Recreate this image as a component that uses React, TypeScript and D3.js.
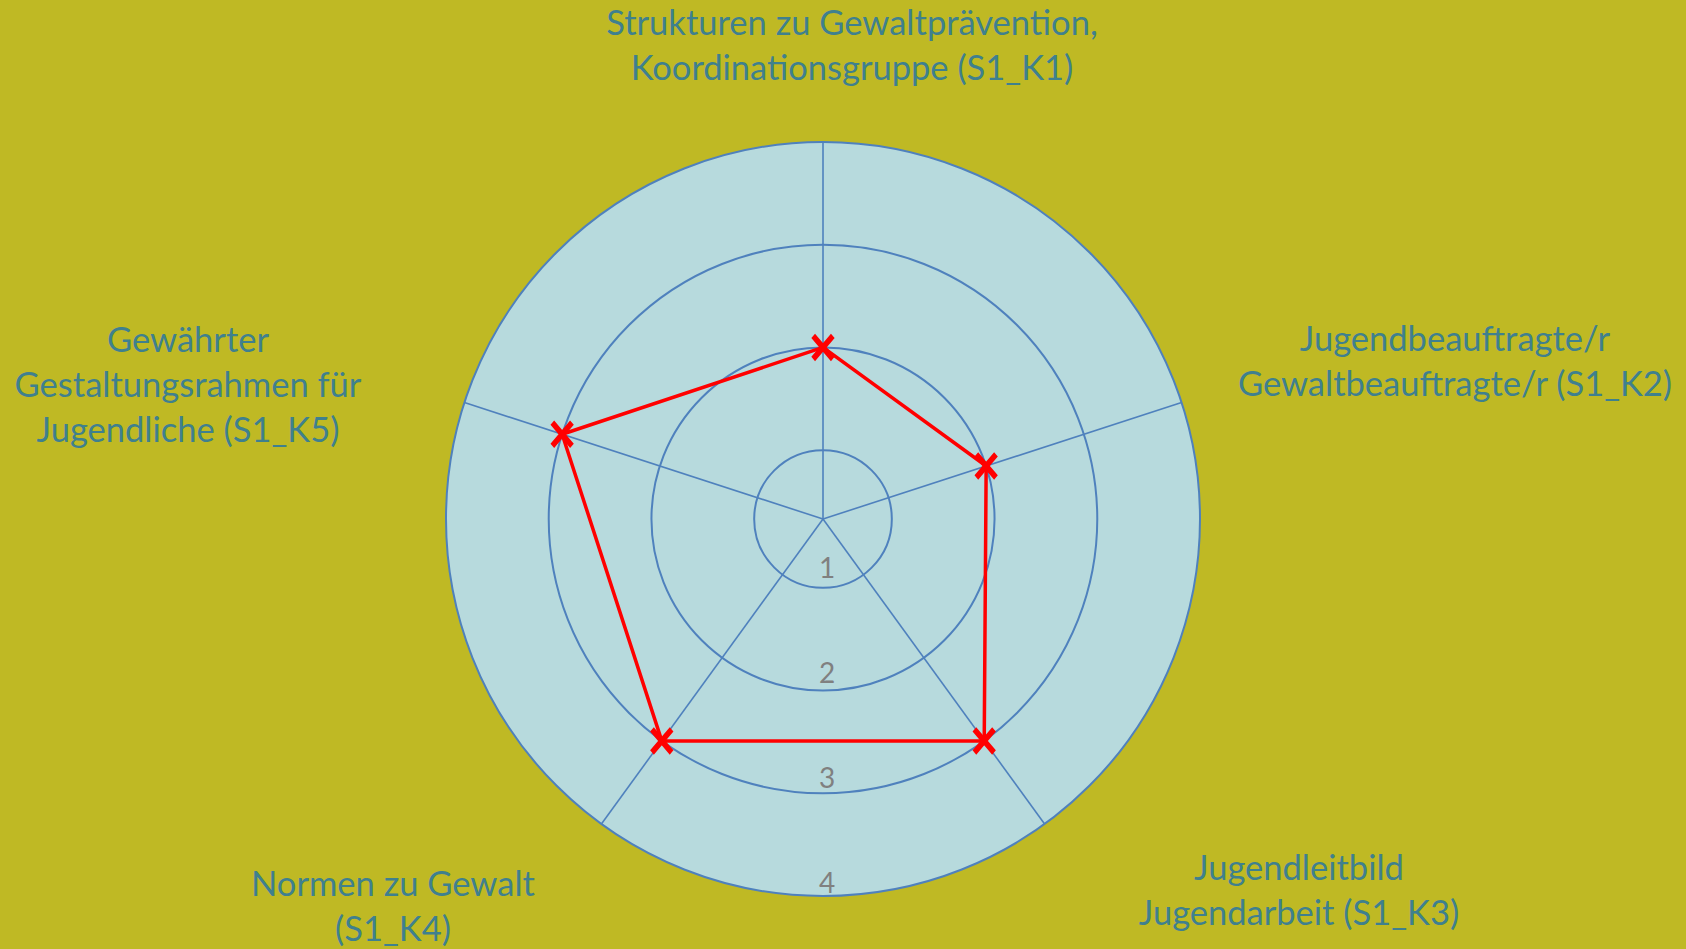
import { useMemo } from "react";
import * as d3 from "d3";

const width = 1686;
const height = 949;
const center = { x: 823, y: 519 };
const outerRadius = 377;

// Kategorien (Achsen) und Werte
const categories = ["S1_K1", "S1_K2", "S1_K3", "S1_K4", "S1_K5"];
const categoryLines = [
  ["Strukturen zu Gewaltprävention,", "Koordinationsgruppe (S1_K1)"],
  ["Jugendbeauftragte/r", "Gewaltbeauftragte/r (S1_K2)"],
  ["Jugendleitbild", "Jugendarbeit (S1_K3)"],
  ["Normen zu Gewalt", "(S1_K4)"],
  ["Gewährter", "Gestaltungsrahmen für", "Jugendliche (S1_K5)"],
];
const values = [2, 2, 3, 3, 3];
const ticks = [1, 2, 3, 4];

// Lage der Beschriftungen (Mitte, Grundlinie der ersten Zeile)
const labelLayout = [
  { x: 852, y: 35 },
  { x: 1455, y: 351 },
  { x: 1299, y: 880 },
  { x: 393, y: 896 },
  { x: 188, y: 352 },
];
const lineHeight = 45;

const colors = {
  background: "#bfb924",
  plot: "#b7dadd",
  grid: "#4f81bd",
  series: "#ff0000",
  label: "#3f808e",
  tick: "#808080",
};

const font = "Lato, 'Open Sans', sans-serif";

export default function App() {
  const r = useMemo(
    () => d3.scaleLinear().domain([0.33, 4]).range([0, outerRadius]),
    [],
  );

  const angle = d3
    .scalePoint<string>()
    .domain(categories)
    .range([0, (2 * Math.PI * (categories.length - 1)) / categories.length]);

  const point = (cat: string, v: number) => {
    const a = angle(cat) ?? 0;
    return [center.x + Math.sin(a) * r(v), center.y - Math.cos(a) * r(v)] as [
      number,
      number,
    ];
  };

  const pts = categories.map((c, i) => point(c, values[i]));
  const linePath = d3.line().curve(d3.curveLinearClosed)(pts) ?? "";
  const marker = d3.symbol(d3.symbolX, 280)() ?? "";

  return (
    <div style={{ position: "absolute", left: 0, top: 0 }}>
      <svg width={width} height={height} style={{ display: "block" }}>
        <rect width={width} height={height} fill={colors.background} />

        <circle
          cx={center.x}
          cy={center.y}
          r={r(4)}
          fill={colors.plot}
          stroke="none"
        />

        {categories.map((c) => {
          const [x2, y2] = point(c, 4);
          return (
            <line
              key={c}
              x1={center.x}
              y1={center.y}
              x2={x2}
              y2={y2}
              stroke={colors.grid}
              strokeWidth={1.6}
            />
          );
        })}

        {ticks.map((t) => (
          <circle
            key={t}
            cx={center.x}
            cy={center.y}
            r={r(t)}
            fill="none"
            stroke={colors.grid}
            strokeWidth={2}
          />
        ))}

        {ticks.map((t) => (
          <text
            key={t}
            x={center.x + 4}
            y={center.y + r(t) - 10 + (t - 1) * 2.3}
            textAnchor="middle"
            fill={colors.tick}
            fontFamily={font}
            fontSize={28}
          >
            {t}
          </text>
        ))}

        <path
          d={linePath}
          fill="none"
          stroke={colors.series}
          strokeWidth={3.5}
          strokeLinejoin="round"
        />

        {pts.map(([x, y], i) => (
          <path
            key={categories[i]}
            d={marker}
            transform={`translate(${x},${y}) scale(0.95,1.12)`}
            fill="none"
            stroke={colors.series}
            strokeWidth={5.5}
          />
        ))}

        {categoryLines.map((lines, i) => (
          <text
            key={categories[i]}
            textAnchor="middle"
            fill={colors.label}
            fontFamily={font}
            fontSize={34.5}
          >
            {lines.map((l, j) => (
              <tspan
                key={j}
                x={labelLayout[i].x}
                y={labelLayout[i].y + j * lineHeight}
              >
                {l}
              </tspan>
            ))}
          </text>
        ))}
      </svg>
    </div>
  );
}
